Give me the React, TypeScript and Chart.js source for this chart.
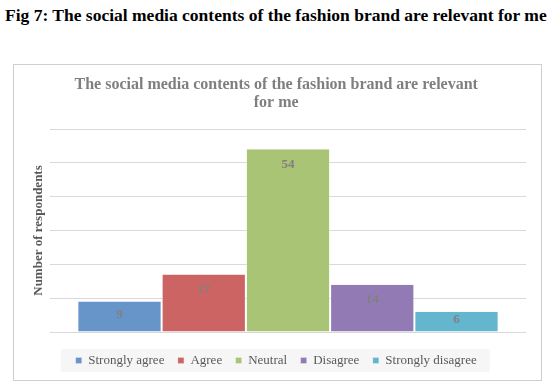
import { useEffect, useRef } from 'react';
import { Chart, registerables } from 'chart.js';

Chart.register(...registerables);

const figCaption = 'Fig 7: The social media contents of the fashion brand are relevant for me';
const chartTitle = ['The social media contents of the fashion brand are relevant', 'for me'];
const yAxisTitle = 'Number of respondents';
const categories = ['Strongly agree', 'Agree', 'Neutral', 'Disagree', 'Strongly disagree'];
const respondents = [9, 17, 54, 14, 6];
const barColors = ['#6794C9', '#CB6463', '#A8C474', '#927AB5', '#63B6CD'];
const yMin = 0;
const yMax = 60;
const yStep = 10;

const SERIF = "'Liberation Serif', 'Times New Roman', serif";

const legendBackground = {
  id: 'legendBackground',
  beforeDraw(chart: any) {
    const lg = chart.legend;
    if (!lg || !lg.legendHitBoxes || !lg.legendHitBoxes.length) return;
    const boxes = lg.legendHitBoxes;
    const left = Math.min(...boxes.map((b: any) => b.left));
    const right = Math.max(...boxes.map((b: any) => b.left + b.width));
    const cy = boxes[0].top + boxes[0].height / 2;
    const ctx = chart.ctx;
    ctx.save();
    ctx.fillStyle = '#f6f6f6';
    ctx.fillRect(left - 15, cy - 11.5, right - left + 28, 23);
    ctx.restore();
  },
};

const valueLabels = {
  id: 'valueLabels',
  afterDatasetsDraw(chart: any) {
    const ctx = chart.ctx;
    ctx.save();
    ctx.font = `bold 13px ${SERIF}`;
    ctx.fillStyle = '#808080';
    ctx.textAlign = 'center';
    ctx.textBaseline = 'middle';
    chart.data.datasets.forEach((ds: any, i: number) => {
      const meta = chart.getDatasetMeta(i);
      const el = meta.data[0];
      if (!el) return;
      const top = el.y;
      const bottom = el.base;
      const mid = (top + bottom) / 2;
      const y = Math.min(top + 15, mid - 2);
      ctx.fillText(String(ds.data[0]), el.x, y);
    });
    ctx.restore();
  },
};

export default function App() {
  const ref = useRef<HTMLCanvasElement>(null);

  useEffect(() => {
    if (!ref.current) return;
    const chart = new Chart(ref.current, {
      type: 'bar',
      data: {
        labels: [''],
        datasets: categories.map((c, i) => ({
          label: c,
          data: [respondents[i]],
          backgroundColor: barColors[i],
          borderColor: 'rgba(255,255,255,0.5)',
          borderWidth: { left: 1, right: 1, top: 0, bottom: 0 },
          categoryPercentage: 0.885,
          barPercentage: 1,
        })),
      },
      options: {
        animation: false,
        responsive: false,
        maintainAspectRatio: false,
        layout: { padding: { left: 12.4, right: 15, top: 0, bottom: 3 } },
        plugins: {
          title: {
            display: true,
            text: chartTitle,
            color: '#7f7f7f',
            font: { family: SERIF, size: 16, weight: 'bold', lineHeight: 1.125 },
            padding: { top: 11, bottom: 17 },
          },
          legend: {
            display: true,
            position: 'bottom',
            labels: {
              boxWidth: 6,
              boxHeight: 6,
              padding: 13.5,
              color: '#595959',
              font: { family: SERIF, size: 13 },
            },
          },
          tooltip: { enabled: false },
        },
        scales: {
          x: {
            display: true,
            ticks: { display: false },
            border: { display: false },
            grid: {
              display: true,
              drawOnChartArea: false,
              drawTicks: true,
              tickLength: 8.5,
              color: 'rgba(0,0,0,0)',
            },
          },
          y: {
            min: yMin,
            max: yMax,
            ticks: { display: false, stepSize: yStep },
            border: { display: false },
            grid: { color: '#d9d9d9', drawTicks: false, lineWidth: 1 },
            title: {
              display: true,
              text: yAxisTitle,
              color: '#595959',
              font: { family: SERIF, size: 13, weight: 'bold', lineHeight: 1.2 },
              padding: { top: 4, bottom: 4 },
            },
          },
        },
      },
      plugins: [legendBackground, valueLabels],
    });
    return () => chart.destroy();
  }, []);

  return (
    <div
      style={{
        position: 'fixed',
        left: 0,
        top: 0,
        width: 559,
        height: 383,
        background: '#ffffff',
        overflow: 'hidden',
      }}
    >
      <div
        style={{
          position: 'absolute',
          left: 5,
          top: 4,
          whiteSpace: 'nowrap',
          fontFamily: SERIF,
          fontWeight: 'bold',
          fontSize: 17.5,
          lineHeight: '22px',
          color: '#000',
        }}
      >
        {figCaption}
      </div>
      <div
        style={{
          position: 'absolute',
          left: 13,
          top: 64,
          width: 529,
          height: 317,
          boxSizing: 'border-box',
          border: '1px solid #cfcfcf',
        }}
      >
        <canvas ref={ref} width={527} height={315} style={{ display: 'block', width: 527, height: 315 }} />
      </div>
    </div>
  );
}
